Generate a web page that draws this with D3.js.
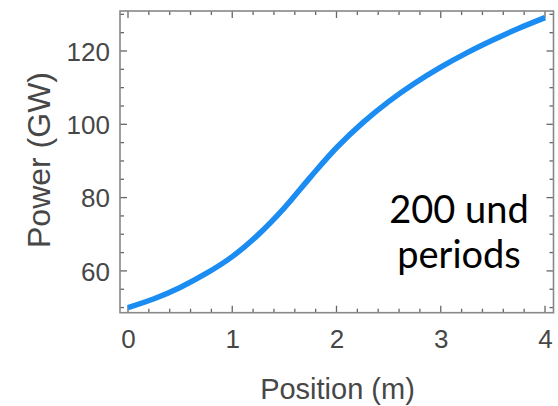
<!DOCTYPE html>
<html>
<head>
<meta charset="utf-8">
<script src="https://cdn.jsdelivr.net/npm/d3@7"></script>
<style>
  html, body { margin: 0; padding: 0; background: #fff; }
  svg { display: block; }
</style>
</head>
<body>
<svg id="chart" width="558" height="406"></svg>
<script>
// Power along the undulator, sampled every 0.25 m
const positions = [0, 0.25, 0.5, 0.75, 1.0, 1.25, 1.5, 1.75, 2.0, 2.25, 2.5, 2.75, 3.0, 3.25, 3.5, 3.75, 4.0];
const powerGW   = [50, 52.4, 55.5, 59.3, 63.9, 69.9, 77.2, 85.6, 93.6, 100.4, 106.2, 111.2, 115.6, 119.5, 123.0, 126.2, 129.1];

const xTicks = [0, 1, 2, 3, 4];
const yTicks = [60, 80, 100, 120];
const xLabel = "Position (m)";
const yLabel = "Power (GW)";
const noteLines = ["200 und", "periods"];

(function draw() {
  const svg = d3.select("#chart");
  const plotLeft = 120, plotRight = 553.5, plotTop = 11, plotBottom = 312.7;

  const x = d3.scaleLinear().domain([-0.0767, 4.0815]).range([plotLeft, plotRight]);
  const y = d3.scaleLinear().domain([48.6, 130.91]).range([plotBottom, plotTop]);

  const tickColor = "#666";
  const labelColor = "#474747";
  const font = "'Liberation Sans', Arial, sans-serif";

  // tick marks drawn inside the frame on all four sides
  const xMinor = d3.range(0, 4.0001, 0.2).map(v => +v.toFixed(2));
  const yMinor = d3.range(50, 131, 5);
  const isMajorX = v => Math.abs(v - Math.round(v)) < 1e-6;
  const isMajorY = v => v % 20 === 0;

  const gTicks = svg.append("g").attr("stroke", tickColor).attr("stroke-width", 1.3);

  gTicks.selectAll("line.xb").data(xMinor).join("line").attr("class", "xb")
    .attr("x1", d => x(d)).attr("x2", d => x(d))
    .attr("y1", plotBottom).attr("y2", d => plotBottom - (isMajorX(d) ? 7 : 4));
  gTicks.selectAll("line.xt").data(xMinor).join("line").attr("class", "xt")
    .attr("x1", d => x(d)).attr("x2", d => x(d))
    .attr("y1", plotTop).attr("y2", d => plotTop + (isMajorX(d) ? 7 : 4));
  gTicks.selectAll("line.yl").data(yMinor).join("line").attr("class", "yl")
    .attr("y1", d => y(d)).attr("y2", d => y(d))
    .attr("x1", plotLeft).attr("x2", d => plotLeft + (isMajorY(d) ? 7 : 4));
  gTicks.selectAll("line.yr").data(yMinor).join("line").attr("class", "yr")
    .attr("y1", d => y(d)).attr("y2", d => y(d))
    .attr("x1", plotRight).attr("x2", d => plotRight - (isMajorY(d) ? 7 : 4));

  // frame
  svg.append("rect")
    .attr("x", plotLeft).attr("y", plotTop)
    .attr("width", plotRight - plotLeft).attr("height", plotBottom - plotTop)
    .attr("fill", "none").attr("stroke", "#888").attr("stroke-width", 1.6);

  // tick labels via d3 axes (tick lines hidden, text kept)
  const gx = svg.append("g").attr("transform", `translate(0,${plotBottom})`)
    .call(d3.axisBottom(x).tickValues(xTicks).tickSize(0).tickPadding(35).tickFormat(d3.format("d")));
  const gy = svg.append("g").attr("transform", `translate(${plotLeft},0)`)
    .call(d3.axisLeft(y).tickValues(yTicks).tickSize(0).tickPadding(10).tickFormat(d3.format("d")));
  [gx, gy].forEach(g => {
    g.select(".domain").remove();
    g.selectAll("text").attr("fill", labelColor).style("font-family", font).style("font-size", "26px");
  });
  gx.selectAll("text").attr("dy", null).attr("y", 35);
  gy.selectAll("text").attr("dy", "0.36em");

  // axis titles
  svg.append("text")
    .attr("x", 337.5).attr("y", 399)
    .attr("text-anchor", "middle")
    .attr("fill", labelColor)
    .style("font-family", font).style("font-size", "29px")
    .text(xLabel);
  svg.append("text")
    .attr("transform", "translate(50,160) rotate(-90)")
    .attr("text-anchor", "middle")
    .attr("fill", labelColor)
    .style("font-family", font).style("font-size", "32px")
    .text(yLabel);

  // power curve
  const line = d3.line()
    .x((d, i) => x(positions[i]))
    .y(d => y(d))
    .curve(d3.curveCatmullRom.alpha(0.5));
  svg.append("path")
    .datum(powerGW)
    .attr("d", line)
    .attr("fill", "none")
    .attr("stroke", "#1a8cf2")
    .attr("stroke-width", 5.5)
    .attr("stroke-linecap", "butt");

  // annotation
  svg.selectAll("text.note").data(noteLines).join("text")
    .attr("class", "note")
    .attr("x", 459)
    .attr("y", (d, i) => 222.7 + i * 45.6)
    .attr("text-anchor", "middle")
    .attr("fill", "#000")
    .style("font-family", "Lato, 'Open Sans', sans-serif")
    .style("font-size", "38px")
    .text(d => d);
})();
</script>
</body>
</html>
